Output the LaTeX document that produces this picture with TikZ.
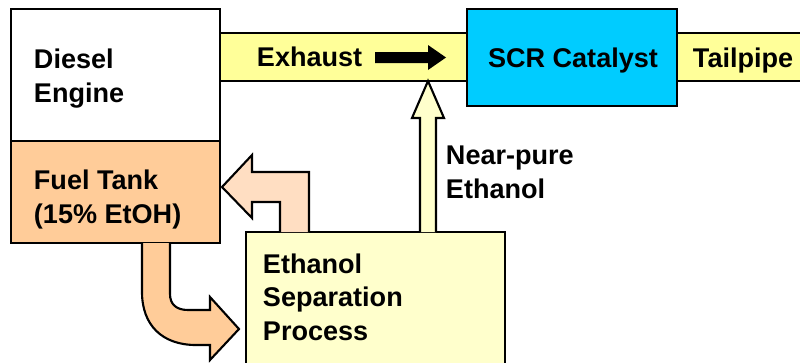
\documentclass[tikz,border=0pt]{standalone}
\usepackage{fontspec}
\setmainfont{Liberation Sans}

\definecolor{pipeyellow}{RGB}{255,255,153}
\definecolor{paleyellow}{RGB}{255,255,204}
\definecolor{tankorange}{RGB}{255,204,153}
\definecolor{palepeach}{RGB}{255,222,194}
\definecolor{scrblue}{RGB}{0,204,255}

\begin{document}
\begin{tikzpicture}[x=0.02cm,y=-0.02cm,line width=1.1pt,line join=miter,
                    label text/.style={inner sep=0pt,anchor=base west,align=left,font=\fontsize{15.4}{19}\selectfont\bfseries},
                    block arrow/.style={draw=black,line width=1.2pt}]

\useasboundingbox (0,0) rectangle (800,362);

% exhaust pipe and tailpipe
\draw [fill=pipeyellow] (220,33) rectangle (468,81);
\fill [pipeyellow] (677,33) rectangle (800,81);
\draw (800,33) -- (677,33) -- (677,81) -- (800,81);

% boxes
\draw [fill=white] (11,9) rectangle (220,141);
\draw [fill=tankorange] (11,141) rectangle (220,243);
\draw [fill=scrblue] (467,9) rectangle (677,106);
\fill [paleyellow] (246,232) rectangle (505,363);
\draw (246,363) -- (246,232) -- (505,232) -- (505,363);

% flow arrows
\fill (375,52) -- (428,52) -- (428,45) -- (446,57.5) -- (428,70) -- (428,63) -- (375,63) -- cycle;
\draw [block arrow,fill=paleyellow] (420,232) -- (420,118) -- (412,118) -- (428,81) -- (444,118) -- (436,118) -- (436,232);
\draw [block arrow,fill=palepeach] (280,232) -- (280,202) -- (252,202) -- (252,218) -- (222,187)
      -- (252,155) -- (252,172) -- (309,172) -- (309,232);
\draw [block arrow,fill=tankorange] (142,243) -- (142,292) .. controls (142,325) and (162,345) .. (196,345)
      -- (210,345) -- (210,360) -- (239,329) -- (210,297) -- (210,310) -- (188,310)
      .. controls (176,310) and (170,304) .. (170,294) -- (170,243);

% labels (base = last line)
\node (engine) [label text] at (33,102) {Diesel\\Engine};
\node (tank) [label text] at (33,223) {Fuel Tank\\(15\% EtOH)};
\node (exhaust) [label text] at (256,66) {Exhaust};
\node (scr) [label text,anchor=base] at (573,67) {SCR Catalyst};
\node (tailpipe) [label text] at (692,67) {Tailpipe};
\node (ethanol) [label text] at (445,198) {Near-pure\\Ethanol};
\node (separation) [label text] at (262,340) {Ethanol\\Separation\\Process};

\end{tikzpicture}
\end{document}
